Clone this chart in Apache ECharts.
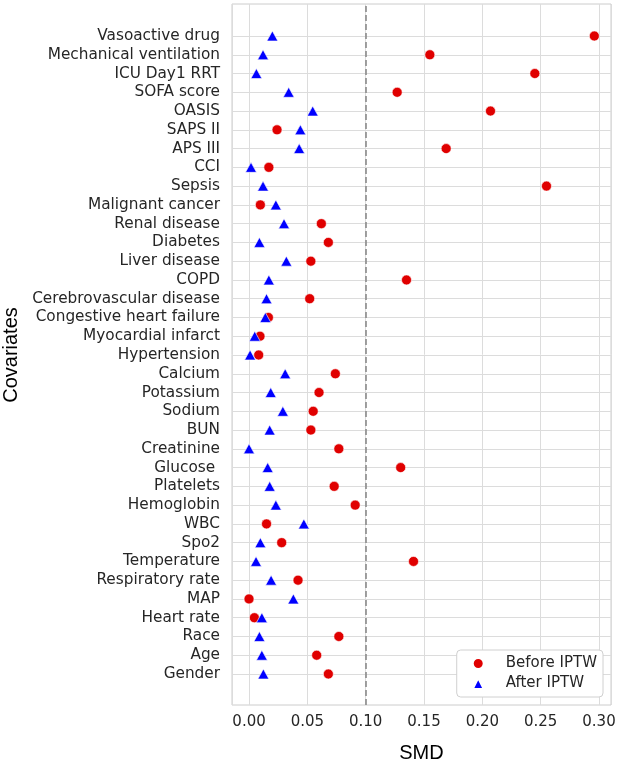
<!DOCTYPE html>
<html>
<head>
<meta charset="utf-8">
<script src="https://cdn.jsdelivr.net/npm/echarts@6/dist/echarts.min.js"></script>
<style>html,body{margin:0;padding:0;background:#fff}#c{width:620px;height:765px}</style>
</head>
<body>
<div id="c"></div>
<script>
const covariates = ["Vasoactive drug","Mechanical ventilation","ICU Day1 RRT","SOFA score","OASIS","SAPS II","APS III","CCI","Sepsis","Malignant cancer","Renal disease","Diabetes","Liver disease","COPD","Cerebrovascular disease","Congestive heart failure","Myocardial infarct","Hypertension","Calcium","Potassium","Sodium","BUN","Creatinine","Glucose ","Platelets","Hemoglobin","WBC","Spo2","Temperature","Respiratory rate","MAP","Heart rate","Race","Age","Gender"];
const smdBefore = [0.296,0.155,0.245,0.127,0.207,0.024,0.169,0.017,0.255,0.0097,0.062,0.068,0.053,0.135,0.052,0.0166,0.0094,0.0083,0.074,0.060,0.055,0.053,0.077,0.130,0.073,0.091,0.015,0.028,0.141,0.042,0.000,0.0046,0.077,0.058,0.068];
const smdAfter = [0.020,0.012,0.0063,0.034,0.0546,0.044,0.043,0.0017,0.012,0.023,0.030,0.0089,0.032,0.017,0.015,0.014,0.0049,0.0009,0.031,0.0186,0.029,0.0177,0.000,0.016,0.0177,0.023,0.047,0.0097,0.006,0.0189,0.038,0.011,0.0089,0.011,0.0123];
const threshold = 0.1;
const xMin = -0.0146, xMax = 0.3103;

const FONT = 'DejaVu Sans';
const NAMEFONT = 'Liberation Sans';
const TXT = '#262626';
const GRIDC = '#dcdcdc';

const chart = echarts.init(document.getElementById('c'), null, {renderer: 'canvas'});
chart.setOption({
  animation: false,
  backgroundColor: '#ffffff',
  textStyle: {fontFamily: FONT},
  grid: [
    {left: 232, right: 9, top: 36, bottom: 91, show: false, containLabel: false, outerBoundsMode: 'none'},
    {left: 232, right: 9, top: 4, bottom: 60, show: true, borderColor: '#cccccc', borderWidth: 1, backgroundColor: 'transparent', z: 0, containLabel: false, outerBoundsMode: 'none'}
  ],
  xAxis: [
    {gridIndex: 0, type: 'value', min: xMin, max: xMax, show: false, splitNumber: 6},
    {gridIndex: 1, type: 'value', min: xMin, max: xMax, splitNumber: 6,
     axisLine: {show: false}, axisTick: {show: false},
     axisLabel: {color: TXT, fontSize: 15, fontFamily: FONT, margin: 10, showMinLabel: false, showMaxLabel: false,
       formatter: v => v.toFixed(2)},
     splitLine: {show: true, lineStyle: {color: GRIDC, width: 1}},
     name: 'SMD', nameLocation: 'middle', nameGap: 38,
     nameTextStyle: {color: '#000', fontSize: 20, fontFamily: NAMEFONT}}
  ],
  yAxis: [
    {gridIndex: 0, type: 'category', data: covariates, inverse: true, boundaryGap: false,
     axisLine: {show: false}, axisTick: {show: false},
     axisLabel: {color: TXT, fontSize: 15.3, fontFamily: FONT, margin: 12, interval: 0},
     splitLine: {show: true, interval: 0, lineStyle: {color: GRIDC, width: 1}},
     name: 'Covariates', nameLocation: 'middle', nameGap: 211, nameRotate: 90,
     nameTextStyle: {color: '#000', fontSize: 20, fontFamily: NAMEFONT}},
    {gridIndex: 1, type: 'value', min: 0, max: 1, show: false}
  ],
  legend: {
    data: ['Before IPTW', 'After IPTW'],
    orient: 'vertical', right: 17, bottom: 68,
    itemWidth: 11, itemHeight: 11, itemGap: 5,
    padding: [6, 6, 6, 15],
    backgroundColor: '#ffffff', borderColor: '#d0d0d0', borderWidth: 1, borderRadius: 4,
    textStyle: {color: TXT, fontSize: 15, lineHeight: 15, fontFamily: FONT, padding: [0, 0, 0, 17]}
  },
  series: [
    {name: 'threshold', type: 'scatter', xAxisIndex: 1, yAxisIndex: 1, data: [], silent: true,
     markLine: {silent: true, symbol: 'none', label: {show: false},
       lineStyle: {color: '#8a8a8a', width: 1.6, type: [6, 3]},
       data: [{xAxis: threshold}]}},
    {name: 'Before IPTW', type: 'scatter', xAxisIndex: 0, yAxisIndex: 0,
     symbol: 'circle', symbolSize: 10,
     itemStyle: {color: '#e00000', borderColor: '#ffffff', borderWidth: 0.6, opacity: 1},
     data: covariates.map((c, i) => [smdBefore[i], c]), z: 3},
    {name: 'After IPTW', type: 'scatter', xAxisIndex: 0, yAxisIndex: 0,
     symbol: 'triangle', symbolSize: [11, 10],
     itemStyle: {color: '#0000ff', borderColor: '#ffffff', borderWidth: 0.6, opacity: 1},
     data: covariates.map((c, i) => [smdAfter[i], c]), z: 4}
  ]
});
</script>
</body>
</html>
